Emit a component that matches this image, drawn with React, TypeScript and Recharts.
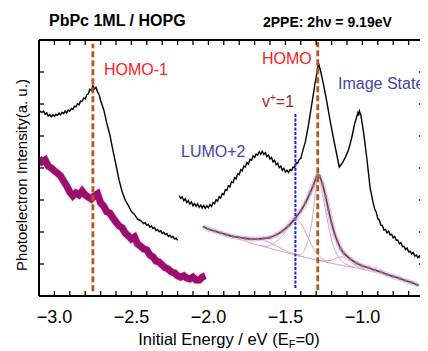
import React from 'react';
import { LineChart, Line, XAxis, YAxis, ReferenceLine } from 'recharts';

type Pt = [number, number];

// HOMO-1 region spectrum (left black trace)
const homo1Trace: Pt[] = [
  [-3.10, 5.81], [-3.09, 5.76], [-3.08, 5.74], [-3.07, 5.78], [-3.06, 5.68], [-3.05, 5.72],
  [-3.04, 5.62], [-3.03, 5.67], [-3.02, 5.60], [-3.01, 5.66], [-3.00, 5.61], [-2.99, 5.68],
  [-2.98, 5.64], [-2.97, 5.72], [-2.96, 5.66], [-2.95, 5.74], [-2.94, 5.70], [-2.93, 5.78],
  [-2.92, 5.72], [-2.91, 5.81], [-2.90, 5.78], [-2.89, 5.86], [-2.88, 5.83], [-2.87, 5.93],
  [-2.86, 5.91], [-2.85, 6.01], [-2.84, 5.98], [-2.83, 6.09], [-2.82, 6.08], [-2.81, 6.19],
  [-2.80, 6.16], [-2.79, 6.29], [-2.78, 6.31], [-2.77, 6.46], [-2.76, 6.42], [-2.75, 6.58],
  [-2.74, 6.47], [-2.73, 6.52], [-2.72, 6.38], [-2.71, 6.30], [-2.70, 6.11], [-2.68, 5.83],
  [-2.66, 5.40], [-2.64, 5.04], [-2.62, 4.55], [-2.60, 4.10], [-2.58, 3.62], [-2.56, 3.26],
  [-2.54, 2.99], [-2.52, 2.83], [-2.50, 2.64], [-2.48, 2.55], [-2.46, 2.40], [-2.44, 2.36],
  [-2.42, 2.26], [-2.41, 2.29], [-2.40, 2.21], [-2.39, 2.24], [-2.38, 2.15], [-2.37, 2.19],
  [-2.36, 2.11], [-2.35, 2.14], [-2.34, 2.04], [-2.33, 2.08], [-2.32, 2.01], [-2.31, 2.04],
  [-2.30, 1.95], [-2.29, 1.99], [-2.28, 1.92], [-2.27, 1.95], [-2.26, 1.86], [-2.25, 1.90],
  [-2.24, 1.83], [-2.23, 1.86], [-2.22, 1.78], [-2.21, 1.81], [-2.20, 1.74],
];

// HOMO / image state spectrum (right black trace)
const homoTrace: Pt[] = [
  [-2.19, 3.14], [-2.18, 3.05], [-2.17, 3.10], [-2.16, 2.98], [-2.15, 3.04], [-2.14, 2.92],
  [-2.13, 2.98], [-2.12, 2.87], [-2.11, 2.94], [-2.10, 2.82], [-2.09, 2.89], [-2.08, 2.80],
  [-2.07, 2.88], [-2.06, 2.77], [-2.05, 2.84], [-2.04, 2.75], [-2.03, 2.83], [-2.02, 2.74],
  [-2.01, 2.82], [-2.00, 2.76], [-1.99, 2.86], [-1.98, 2.80], [-1.97, 2.92], [-1.96, 2.88],
  [-1.95, 3.01], [-1.94, 2.96], [-1.93, 3.10], [-1.92, 3.06], [-1.91, 3.20], [-1.90, 3.17],
  [-1.89, 3.32], [-1.88, 3.30], [-1.87, 3.45], [-1.86, 3.41], [-1.85, 3.57], [-1.84, 3.54],
  [-1.83, 3.70], [-1.82, 3.66], [-1.81, 3.82], [-1.80, 3.79], [-1.79, 3.95], [-1.78, 3.91],
  [-1.77, 4.06], [-1.76, 4.03], [-1.75, 4.17], [-1.74, 4.12], [-1.73, 4.27], [-1.72, 4.24],
  [-1.71, 4.38], [-1.70, 4.33], [-1.69, 4.44], [-1.68, 4.40], [-1.67, 4.51], [-1.66, 4.43],
  [-1.65, 4.52], [-1.64, 4.42], [-1.63, 4.48], [-1.62, 4.36], [-1.61, 4.40], [-1.60, 4.28],
  [-1.59, 4.33], [-1.58, 4.19], [-1.57, 4.24], [-1.56, 4.10], [-1.55, 4.15], [-1.54, 4.01],
  [-1.53, 4.06], [-1.52, 3.93], [-1.51, 3.99], [-1.50, 3.87], [-1.49, 3.93], [-1.48, 3.86],
  [-1.47, 3.95], [-1.46, 3.92], [-1.45, 4.03], [-1.44, 4.02], [-1.43, 4.16], [-1.42, 4.15],
  [-1.41, 4.27], [-1.40, 4.30], [-1.39, 4.49], [-1.37, 4.83], [-1.35, 5.35], [-1.33, 5.96],
  [-1.31, 6.57], [-1.29, 7.12], [-1.285, 7.28], [-1.28, 7.18], [-1.27, 7.00], [-1.25, 6.55],
  [-1.23, 6.04], [-1.21, 5.49], [-1.19, 4.98], [-1.17, 4.50], [-1.15, 4.03], [-1.13, 4.16],
  [-1.11, 4.34], [-1.09, 4.57], [-1.07, 4.93], [-1.05, 5.39], [-1.04, 5.55], [-1.03, 5.72],
  [-1.025, 5.64], [-1.02, 5.78], [-1.01, 5.65], [-0.99, 5.03], [-0.97, 4.25], [-0.95, 3.38],
  [-0.93, 2.91], [-0.92, 2.72], [-0.91, 2.62], [-0.90, 2.42], [-0.89, 2.37], [-0.88, 2.21],
  [-0.87, 2.20], [-0.86, 2.06], [-0.85, 2.08], [-0.84, 1.97], [-0.83, 2.03], [-0.82, 1.91],
  [-0.81, 1.93], [-0.80, 1.82], [-0.79, 1.86], [-0.78, 1.74], [-0.77, 1.75], [-0.76, 1.63],
  [-0.75, 1.67], [-0.74, 1.54], [-0.73, 1.55], [-0.72, 1.45], [-0.71, 1.50], [-0.70, 1.38],
  [-0.69, 1.40], [-0.68, 1.31], [-0.67, 1.36], [-0.66, 1.25], [-0.65, 1.28], [-0.64, 1.20],
  [-0.63, 1.25], [-0.62, 1.15], [-0.61, 1.19], [-0.60, 1.14],
];

// purple trace
const purpleTrace: Pt[] = [
  [-3.10, 4.31], [-3.08, 4.19], [-3.06, 4.25], [-3.04, 4.06], [-3.02, 4.00], [-3.00, 3.91],
  [-2.98, 3.84], [-2.96, 3.75], [-2.94, 3.59], [-2.92, 3.44], [-2.90, 3.25], [-2.88, 3.13],
  [-2.86, 3.22], [-2.84, 3.16], [-2.82, 3.28], [-2.80, 3.16], [-2.78, 3.09], [-2.76, 3.03],
  [-2.74, 3.13], [-2.72, 3.19], [-2.70, 2.91], [-2.68, 2.81], [-2.66, 2.63], [-2.64, 2.59],
  [-2.62, 2.44], [-2.60, 2.31], [-2.58, 2.19], [-2.56, 2.13], [-2.54, 1.97], [-2.52, 1.88],
  [-2.50, 1.78], [-2.48, 1.84], [-2.46, 1.63], [-2.44, 1.56], [-2.42, 1.47], [-2.40, 1.44],
  [-2.38, 1.28], [-2.36, 1.22], [-2.34, 1.09], [-2.32, 1.06], [-2.30, 0.97], [-2.28, 0.88],
  [-2.26, 0.84], [-2.24, 0.75], [-2.22, 0.72], [-2.20, 0.63], [-2.18, 0.59], [-2.16, 0.63],
  [-2.14, 0.56], [-2.12, 0.53], [-2.10, 0.59], [-2.08, 0.50], [-2.06, 0.50], [-2.04, 0.59],
  [-2.02, 0.63],
];

// fitted spectrum (lower right)
const fitData: Pt[] = [
  [-2.03, 2.16], [-2.00, 2.09], [-1.96, 2.03], [-1.92, 1.97], [-1.88, 1.91], [-1.84, 1.86],
  [-1.80, 1.83], [-1.76, 1.80], [-1.72, 1.78], [-1.68, 1.78], [-1.64, 1.80], [-1.60, 1.83],
  [-1.56, 1.91], [-1.52, 2.03], [-1.48, 2.19], [-1.44, 2.41], [-1.40, 2.66], [-1.37, 2.91],
  [-1.34, 3.22], [-1.32, 3.44], [-1.30, 3.69], [-1.29, 3.78], [-1.28, 3.75], [-1.26, 3.50],
  [-1.24, 3.13], [-1.22, 2.69], [-1.20, 2.28], [-1.18, 1.94], [-1.16, 1.69], [-1.14, 1.47],
  [-1.12, 1.34], [-1.08, 1.16], [-1.04, 1.03], [-1.00, 0.94], [-0.96, 0.88], [-0.92, 0.81],
  [-0.88, 0.75], [-0.84, 0.67], [-0.80, 0.61], [-0.76, 0.55], [-0.72, 0.48], [-0.68, 0.42],
  [-0.64, 0.34],
];
const fitBackground: Pt[] = [
  [-2.03, 2.13], [-1.90, 1.93], [-1.80, 1.77], [-1.70, 1.62], [-1.60, 1.49], [-1.50, 1.36],
  [-1.40, 1.24], [-1.30, 1.13], [-1.20, 1.02], [-1.10, 0.93], [-1.00, 0.84], [-0.90, 0.72],
  [-0.80, 0.59], [-0.70, 0.46], [-0.64, 0.36],
];
const fitPeakLumo: Pt[] = [
  [-2.03, 2.15], [-1.92, 1.99], [-1.84, 1.88], [-1.76, 1.80], [-1.70, 1.77], [-1.66, 1.75],
  [-1.62, 1.70], [-1.58, 1.62], [-1.54, 1.52], [-1.50, 1.42], [-1.46, 1.34], [-1.42, 1.27],
  [-1.38, 1.22],
];
const fitPeakV1: Pt[] = [
  [-1.66, 1.58], [-1.62, 1.55], [-1.58, 1.62], [-1.54, 1.78], [-1.50, 2.00], [-1.46, 2.25],
  [-1.43, 2.38], [-1.40, 2.28], [-1.37, 2.00], [-1.34, 1.70], [-1.31, 1.42], [-1.28, 1.25],
  [-1.25, 1.13], [-1.22, 1.08],
];
const fitPeakHomo: Pt[] = [
  [-1.44, 1.28], [-1.40, 1.30], [-1.37, 1.50], [-1.34, 2.00], [-1.32, 2.60], [-1.30, 3.40],
  [-1.29, 3.72], [-1.28, 3.60], [-1.26, 3.20], [-1.24, 2.70], [-1.22, 2.20], [-1.20, 1.75],
  [-1.17, 1.35], [-1.14, 1.12], [-1.10, 0.98], [-1.05, 0.90],
];
const fitPeakSmall: Pt[] = [
  [-1.30, 1.12], [-1.25, 1.10], [-1.20, 1.12], [-1.16, 1.20], [-1.13, 1.22], [-1.10, 1.15],
  [-1.06, 1.00], [-1.02, 0.88], [-0.98, 0.82],
];

const xTicks = [
  -3.1, -3.0, -2.9, -2.8, -2.7, -2.6, -2.5, -2.4, -2.3, -2.2, -2.1, -2.0, -1.9,
  -1.8, -1.7, -1.6, -1.5, -1.4, -1.3, -1.2, -1.1, -1.0, -0.9, -0.8, -0.7, -0.6,
];
const yTicks = [0, 1, 2, 3, 4, 5, 6, 7, 8];

const HOMO1_E = -2.75;
const HOMO_E = -1.29;
const VPLUS_E = -1.435;

const PLOT_W = 385;
const PLOT_H = 256;
const FONT = '"Liberation Sans", Arial, sans-serif';

const rows = (pts: Pt[]) => pts.map(([x, y]) => ({ x, y }));

const XTick = (props: any) => {
  const { x, y, payload } = props;
  const v = payload.value as number;
  const major = Math.abs(v * 2 - Math.round(v * 2)) < 1e-6;
  return (
    <g>
      <line x1={x} y1={y} x2={x} y2={y - 5} stroke="#000" strokeWidth={1.3} />
      <line x1={x} y1={y - PLOT_H} x2={x} y2={y - PLOT_H + 5} stroke="#000" strokeWidth={1.3} />
      {major && v > -3.05 && v < -0.65 && (
        <text x={x} y={y + 27} textAnchor="middle" fontSize={18} fontFamily={FONT} fill="#000">
          {v.toFixed(1).replace('-', '\u2212')}
        </text>
      )}
    </g>
  );
};

const YTick = (props: any) => {
  const { x, y } = props;
  return (
    <g>
      <line x1={x} y1={y} x2={x + 5} y2={y} stroke="#000" strokeWidth={1.3} />
      <line x1={x + PLOT_W} y1={y} x2={x + PLOT_W - 5} y2={y} stroke="#000" strokeWidth={1.3} />
    </g>
  );
};

const thin = { stroke: '#d7a3c3', strokeWidth: 1 };

export default function App() {
  return (
    <LineChart width={420} height={343} margin={{ top: 32, right: 4, bottom: 0, left: 0 }}>
      <XAxis
        type="number"
        dataKey="x"
        domain={[-3.1, -0.6]}
        ticks={xTicks}
        interval={0}
        allowDataOverflow
        height={55}
        tickSize={0}
        tickMargin={0}
        tickLine={false}
        tick={XTick}
        axisLine={{ stroke: '#000', strokeWidth: 2 }}
      />
      <YAxis
        type="number"
        dataKey="y"
        domain={[0, 8]}
        ticks={yTicks}
        interval={0}
        allowDataOverflow
        width={31}
        tickSize={0}
        tickMargin={0}
        tickLine={false}
        tick={YTick}
        axisLine={{ stroke: '#000', strokeWidth: 2 }}
      />
      <ReferenceLine y={8} stroke="#000" strokeWidth={2} />
      <ReferenceLine x={-0.6} stroke="#000" strokeWidth={2} />

      <Line data={rows(purpleTrace)} dataKey="y" type="linear" stroke="#f7e0ee" strokeWidth={9} dot={false} isAnimationActive={false} />
      <Line data={rows(purpleTrace)} dataKey="y" type="linear" stroke="#9a0f6e" strokeWidth={7} dot={false} isAnimationActive={false} />

      <Line data={rows(fitBackground)} dataKey="y" type="monotone" {...thin} dot={false} isAnimationActive={false} />
      <Line data={rows(fitPeakLumo)} dataKey="y" type="monotone" {...thin} dot={false} isAnimationActive={false} />
      <Line data={rows(fitPeakV1)} dataKey="y" type="monotone" {...thin} dot={false} isAnimationActive={false} />
      <Line data={rows(fitPeakHomo)} dataKey="y" type="monotone" {...thin} dot={false} isAnimationActive={false} />
      <Line data={rows(fitPeakSmall)} dataKey="y" type="monotone" {...thin} dot={false} isAnimationActive={false} />
      <Line data={rows(fitData)} dataKey="y" type="monotone" stroke="#e8cfe0" strokeWidth={5} dot={false} isAnimationActive={false} />
      <Line
        data={rows(fitData)}
        dataKey="y"
        type="monotone"
        stroke="#6b3963"
        strokeWidth={1.6}
        dot={{ r: 1.4, fill: '#8c7887', stroke: 'none' }}
        isAnimationActive={false}
      />

      <Line data={rows(homo1Trace)} dataKey="y" type="linear" stroke="#000" strokeWidth={1.4} dot={false} isAnimationActive={false} />
      <Line data={rows(homoTrace)} dataKey="y" type="linear" stroke="#000" strokeWidth={1.4} dot={false} isAnimationActive={false} />

      <ReferenceLine
        segment={[{ x: HOMO1_E, y: 0.15 }, { x: HOMO1_E, y: 7.88 }]}
        stroke="#b9561f"
        strokeWidth={2.8}
        strokeDasharray="6 3"
      />
      <ReferenceLine
        segment={[{ x: HOMO_E, y: 0.18 }, { x: HOMO_E, y: 7.94 }]}
        stroke="#b9561f"
        strokeWidth={2.8}
        strokeDasharray="6 3"
      />
      <ReferenceLine
        segment={[{ x: VPLUS_E, y: 0.25 }, { x: VPLUS_E, y: 5.72 }]}
        stroke="#1a1aff"
        strokeWidth={2}
        strokeDasharray="3 1.5"
      />

      <text x={41} y={18} fontSize={16} fontWeight="bold" fontFamily={FONT} fill="#000">PbPc 1ML / HOPG</text>
      <text x={255} y={19} fontSize={14} fontWeight="bold" fontFamily={FONT} fill="#000">2PPE: 2hν = 9.19eV</text>
      <text x={96} y={67} fontSize={16} fontFamily={FONT} fill="#ff2020">HOMO-1</text>
      <text x={254} y={56} fontSize={16} fontFamily={FONT} fill="#ff2020">HOMO</text>
      <text x={330} y={81} fontSize={16} fontFamily={FONT} fill="#4444aa">Image State</text>
      <text x={254} y={99} fontSize={16} fontFamily={FONT} fill="#a52a2a">
        v<tspan fontSize={10} dy={-6}>+</tspan><tspan dy={6}>=1</tspan>
      </text>
      <text x={173} y={149} fontSize={16} fontFamily={FONT} fill="#4444aa">LUMO+2</text>
      <text x={19} y={167} fontSize={15} fontFamily={FONT} fill="#000" textAnchor="middle" transform="rotate(-90 19 167)">
        Photoelectron Intensity(a. u.)
      </text>
      <text x={221} y={337} fontSize={16.5} fontFamily={FONT} fill="#000" textAnchor="middle">
        Initial Energy / eV (E<tspan fontSize={11} dy={3}>F</tspan><tspan dy={-3}>=0)</tspan>
      </text>
    </LineChart>
  );
}
